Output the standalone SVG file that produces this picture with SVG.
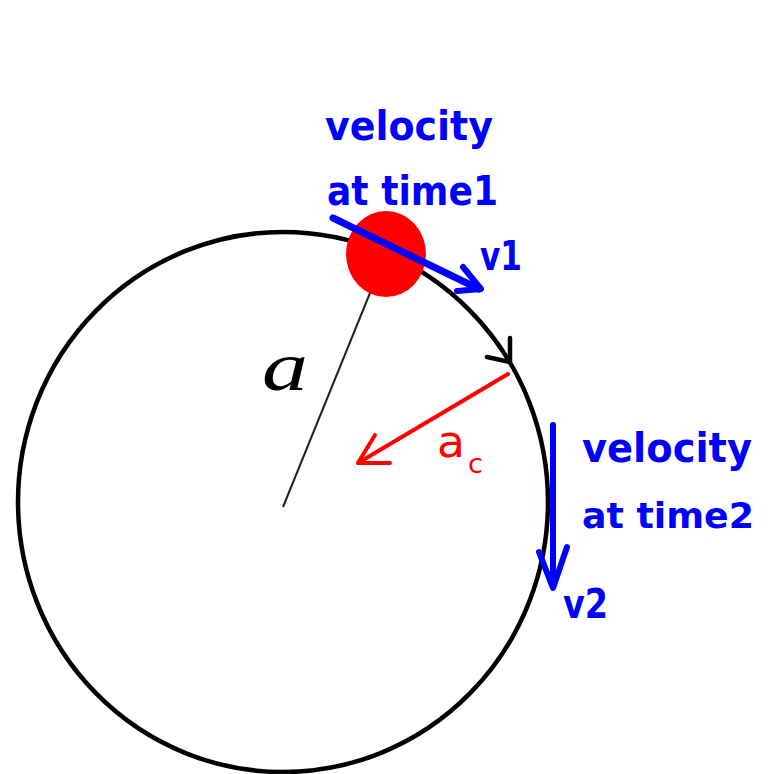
<svg xmlns="http://www.w3.org/2000/svg" width="769" height="774" viewBox="0 0 769 774">
<style>
.blue{fill:#0000ff;font-family:"DejaVu Sans","Liberation Sans",sans-serif;font-weight:bold;font-size:40px}
.bl{stroke:#0000ff;fill:none;stroke-linecap:round;stroke-linejoin:round}
.red{stroke:#ff0000;fill:none;stroke-width:4;stroke-linecap:round;stroke-linejoin:round}
</style>
<rect width="769" height="774" fill="#ffffff"/>
<g id="orbit">
<ellipse cx="283" cy="502" rx="265" ry="270" fill="none" stroke="#000000" stroke-width="4.5"/>
<polyline points="487,357 510,362 510,338" fill="none" stroke="#000000" stroke-width="4.5" stroke-linecap="round" stroke-linejoin="round"/>
</g>
<g id="radius">
<line x1="370" y1="293" x2="283" y2="507" stroke="#222222" stroke-width="2"/>
<text x="262" y="390" font-family="Liberation Serif,serif" font-style="italic" font-size="70" fill="#000000" textLength="46" lengthAdjust="spacingAndGlyphs">a</text>
</g>
<g id="ball">
<ellipse cx="386" cy="254" rx="40" ry="43" fill="#ff0000"/>
</g>
<g id="connectors">
<g id="v1-arrow">
<line x1="333" y1="218" x2="479" y2="289" class="bl" stroke-width="7"/>
<polyline points="463,267 481,289 457,291" class="bl" stroke-width="6"/>
</g>
<g id="v2-arrow">
<line x1="553" y1="425" x2="553" y2="586" class="bl" stroke-width="6"/>
<polyline points="539,552 553,588 567,547" class="bl" stroke-width="6"/>
</g>
<g id="ac-arrow">
<line x1="508" y1="374" x2="358" y2="463" class="red"/>
<polyline points="375,435 358,463 390,463" class="red"/>
</g>
</g>
<g id="labels">
<text class="blue" x="325" y="140" textLength="168" lengthAdjust="spacingAndGlyphs">velocity</text>
<text class="blue" x="327" y="205" textLength="171" lengthAdjust="spacingAndGlyphs">at time1</text>
<text class="blue" x="480" y="270" textLength="42" lengthAdjust="spacingAndGlyphs">v1</text>
<text class="blue" x="582" y="462" textLength="170" lengthAdjust="spacingAndGlyphs">velocity</text>
<text class="blue" x="582" y="528" style="font-size:36px" textLength="172" lengthAdjust="spacingAndGlyphs">at time2</text>
<text class="blue" x="563" y="618" textLength="45" lengthAdjust="spacingAndGlyphs">v2</text>
<text x="437" y="457" fill="#ff0000" font-family="DejaVu Sans,sans-serif" font-size="44" textLength="28" lengthAdjust="spacingAndGlyphs">a</text>
<text x="468" y="473" fill="#ff0000" font-family="DejaVu Sans,sans-serif" font-size="27" textLength="15" lengthAdjust="spacingAndGlyphs">c</text>
</g>
</svg>
